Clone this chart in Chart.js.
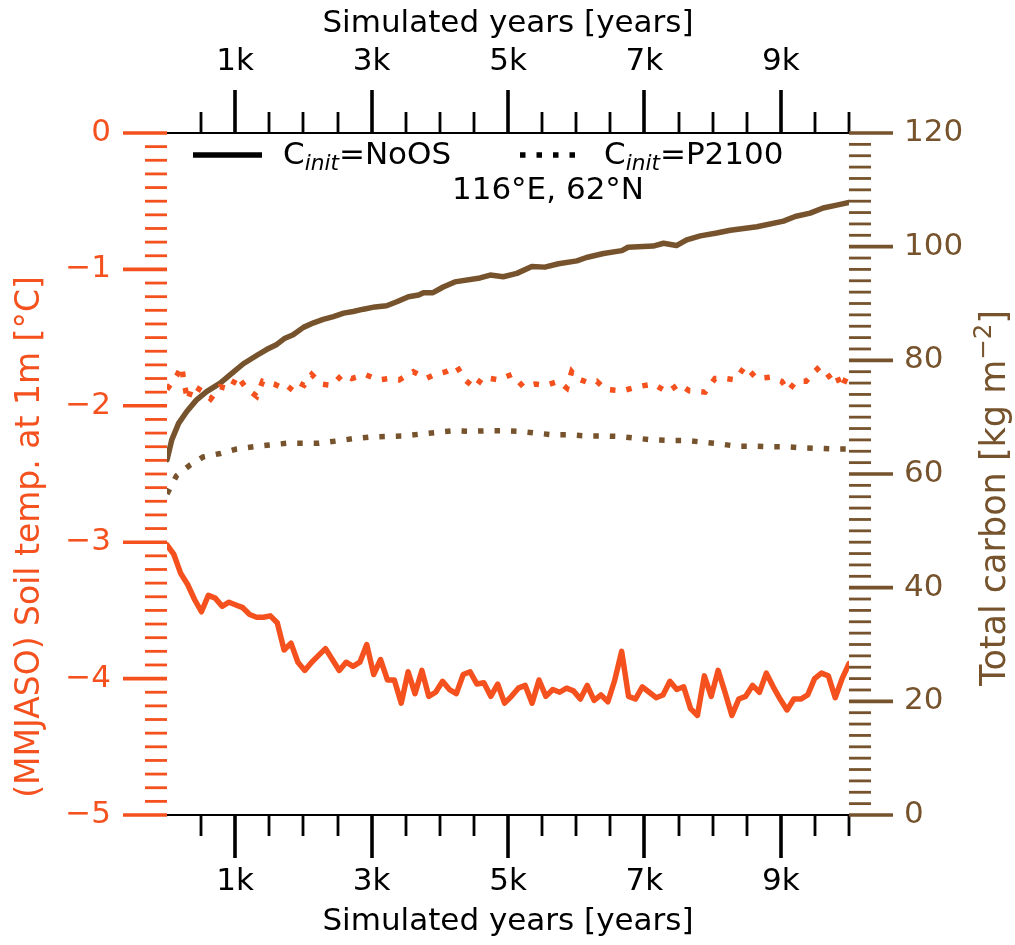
<!DOCTYPE html>
<html>
<head>
<meta charset="utf-8">
<script src="https://cdn.jsdelivr.net/npm/chart.js@4"></script>
<style>
  body { margin: 0; background: #fff; }
  canvas { display: block; }
</style>
</head>
<body>
<canvas id="chart" width="1015" height="945"></canvas>
<script>
// soil temperature, C_init = NoOS (one value per ~100 simulated years)
const tempNoOS = [
    -3.02, -3.09, -3.23, -3.31, -3.42, -3.51, -3.39, -3.41, -3.47, -3.44,
    -3.46, -3.48, -3.53, -3.55, -3.55, -3.54, -3.59, -3.79, -3.74, -3.88,
    -3.94, -3.88, -3.83, -3.78, -3.86, -3.94, -3.88, -3.91, -3.88, -3.75,
    -3.97, -3.86, -4.01, -4.01, -4.18, -3.95, -4.11, -3.94, -4.13, -4.10,
    -4.02, -4.08, -4.11, -3.97, -3.95, -4.04, -4.03, -4.13, -4.04, -4.18,
    -4.13, -4.07, -4.05, -4.18, -4.01, -4.13, -4.08, -4.10, -4.07, -4.09,
    -4.15, -4.05, -4.16, -4.12, -4.17, -4.01, -3.80, -4.13, -4.15, -4.06,
    -4.10, -4.14, -4.12, -4.02, -4.08, -4.06, -4.22, -4.27, -3.98, -4.13,
    -3.94, -4.10, -4.27, -4.15, -4.13, -4.05, -4.10, -3.96, -4.06, -4.15,
    -4.23, -4.15, -4.15, -4.12, -4.00, -3.96, -3.98, -4.14, -4.00, -3.89
];

// soil temperature, C_init = P2100
const tempP2100Years = [
    0, 142, 216, 249, 304, 377, 509, 641, 777, 924,
    1031, 1158, 1315, 1403, 1569, 1779, 1891, 2009, 2122, 2258,
    2415, 2576, 2708, 2903, 3098, 3260, 3406, 3611, 3798, 3930,
    4091, 4248, 4370, 4516, 4629, 4858, 5054, 5225, 5396, 5557,
    5738, 5861, 5934, 6016, 6177, 6301, 6432, 6676, 6902, 7130,
    7336, 7507, 7658, 7889, 8035, 8196, 8333, 8475, 8647, 8842,
    9013, 9110, 9223, 9370, 9535, 9663, 9795, 9893, 10000
];
const tempP2100 = [
    -1.88, -1.78, -1.71, -1.83, -1.96, -1.85, -1.89, -1.95, -1.86, -1.88,
    -1.78, -1.87, -1.93, -1.82, -1.84, -1.89, -1.82, -1.85, -1.77, -1.84,
    -1.85, -1.77, -1.80, -1.77, -1.81, -1.80, -1.81, -1.75, -1.80, -1.77,
    -1.75, -1.71, -1.81, -1.87, -1.79, -1.81, -1.77, -1.86, -1.84, -1.85,
    -1.82, -1.87, -1.75, -1.80, -1.83, -1.82, -1.88, -1.89, -1.86, -1.84,
    -1.90, -1.84, -1.89, -1.90, -1.80, -1.80, -1.81, -1.71, -1.80, -1.79,
    -1.82, -1.89, -1.82, -1.82, -1.73, -1.80, -1.75, -1.87, -1.75
];

// total carbon, C_init = NoOS
const carbonNoOSYears = [
    0, 70, 170, 290, 430, 580, 780, 950, 1120, 1320,
    1460, 1610, 1730, 1850, 2000, 2150, 2290, 2440, 2590, 2730,
    2880, 3050, 3220, 3370, 3540, 3690, 3760, 3900, 4050, 4220,
    4590, 4740, 4930, 5130, 5350, 5540, 5740, 6010, 6150, 6400,
    6670, 6760, 7130, 7280, 7470, 7620, 7820, 8060, 8260, 8650,
    9040, 9210, 9430, 9620, 9820, 10000
];
const carbonNoOS = [
    62.5, 66.0, 68.9, 71.0, 73.0, 74.5, 76.0, 77.7, 79.4, 80.9,
    81.9, 82.8, 83.9, 84.5, 85.8, 86.6, 87.2, 87.7, 88.3, 88.6,
    89.0, 89.4, 89.6, 90.3, 91.2, 91.5, 91.9, 91.9, 92.9, 93.8,
    94.5, 95.0, 94.7, 95.3, 96.5, 96.4, 97.0, 97.5, 98.1, 98.8,
    99.3, 99.9, 100.1, 100.6, 100.2, 101.2, 101.9, 102.4, 102.9, 103.5,
    104.5, 105.3, 105.9, 106.8, 107.3, 107.8
];

// total carbon, C_init = P2100
const carbonP2100Years = [
    0, 140, 330, 530, 780, 1020, 1270, 1500, 1750, 1990,
    2230, 2480, 2720, 2970, 3210, 3460, 3700, 3940, 4190, 4430,
    4680, 4920, 5170, 5410, 5660, 5900, 6140, 6390, 6630, 6880,
    7120, 7370, 7610, 7860, 8100, 8340, 8590, 8830, 9080, 9320,
    9570, 9810, 10000
];
const carbonP2100 = [
    56.5, 59.7, 61.5, 63.0, 63.6, 64.4, 64.8, 65.1, 65.4, 65.4,
    65.4, 65.8, 66.2, 66.5, 66.6, 66.7, 67.0, 67.3, 67.6, 67.5,
    67.6, 67.6, 67.5, 67.2, 66.9, 66.9, 66.7, 66.7, 66.6, 66.3,
    66.0, 65.9, 65.9, 65.6, 65.3, 64.9, 64.9, 64.8, 64.8, 64.6,
    64.5, 64.4, 64.4
];

// axis ticks
const yearTicks = [1000, 3000, 5000, 7000, 9000];
const tempTicks = [-5, -4, -3, -2, -1, 0];
const carbonTicks = [0, 20, 40, 60, 80, 100, 120];

const ORANGE = '#f4511e';
const BROWN = '#76532c';
const FONT = 'DejaVu Sans';
const FS = 31;
const LABEL_FS = 33;

const tempNoOSYears = tempNoOS.map((_, i) => i * 10000 / (tempNoOS.length - 1));
const pts = (xs, ys) => ys.map((y, i) => ({ x: xs[i], y }));
const minus = v => String(v).replace('-', '\u2212');

// text pieces with sub/superscripts
function richText(ctx, parts, x, y, align, size) {
    const fs = size || FS;
    const fontOf = p => (p.italic ? 'italic ' : '') + (p.small ? fs * 0.7 : fs) + 'px "' + FONT + '"';
    let w = 0;
    parts.forEach(p => { ctx.font = fontOf(p); w += ctx.measureText(p.t).width; });
    let cx = align === 'center' ? x - w / 2 : x;
    ctx.textAlign = 'left';
    ctx.textBaseline = 'alphabetic';
    parts.forEach(p => {
        ctx.font = fontOf(p);
        ctx.fillText(p.t, cx, y + (p.dy || 0));
        cx += ctx.measureText(p.t).width;
    });
}

const decorations = {
    id: 'decorations',
    afterDraw(chart) {
        const { ctx, chartArea: a, scales } = chart;
        ctx.save();
        ctx.lineCap = 'butt';
        const seg = (x1, y1, x2, y2, w, c) => {
            ctx.beginPath();
            ctx.strokeStyle = c;
            ctx.lineWidth = w;
            ctx.moveTo(x1, y1);
            ctx.lineTo(x2, y2);
            ctx.stroke();
        };
        // year ticks every 500, long ones at the labelled values
        for (let i = 1; i <= 20; i++) {
            const v = i * 500;
            const major = yearTicks.includes(v);
            const len = major ? 43 : 21;
            const w = major ? 3.6 : 2.8;
            const px = Math.round(scales.x.getPixelForValue(v));
            seg(px, a.bottom, px, a.bottom + len, w, '#000');
            seg(px, a.top, px, a.top - len, w, '#000');
        }
        // temperature ticks every 0.1
        for (let i = 0; i <= 50; i++) {
            const major = i % 10 === 0;
            const py = scales.yT.getPixelForValue(-5 + i / 10);
            seg(a.left - (major ? 44 : 22), py, a.left, py, major ? 3.6 : 2.8, ORANGE);
        }
        // carbon ticks every 2
        for (let i = 0; i <= 60; i++) {
            const major = i % 10 === 0;
            const py = scales.yC.getPixelForValue(i * 2);
            seg(a.right, py, a.right + (major ? 44 : 22), py, major ? 3.6 : 2.8, BROWN);
        }

        // legend
        ctx.fillStyle = '#000';
        seg(193, 155, 262, 155, 5.5, '#000');
        ctx.setLineDash([5.5, 11]);
        seg(520, 155, 580, 155, 5.5, '#000');
        ctx.setLineDash([]);
        richText(ctx, [{ t: 'C' }, { t: 'init', italic: true, small: true, dy: 6 }, { t: '=NoOS' }], 283, 164);
        richText(ctx, [{ t: 'C' }, { t: 'init', italic: true, small: true, dy: 6 }, { t: '=P2100' }], 604, 164);
        richText(ctx, [{ t: '116\u00b0E, 62\u00b0N' }], 548, 199, 'center');

        // left axis title, reading upwards
        ctx.save();
        ctx.translate(28, 537);
        ctx.rotate(-Math.PI / 2);
        ctx.fillStyle = ORANGE;
        ctx.translate(0, 11);
        richText(ctx, [{ t: '(MMJASO) Soil temp. at 1m [\u00b0C]' }], 0, 0, 'center', LABEL_FS);
        ctx.restore();

        // right axis title, reading upwards
        ctx.translate(993, 498);
        ctx.rotate(-Math.PI / 2);
        ctx.fillStyle = BROWN;
        ctx.translate(0, 12);
        richText(ctx, [{ t: 'Total carbon [kg m' }, { t: '\u22122', small: true, dy: -14 }, { t: ']' }], 0, 0, 'center', 35);
        ctx.restore();
    }
};

const tickFont = { family: FONT, size: FS };

const xAxis = (position, height, labelPad, titlePad) => ({
    type: 'linear',
    position,
    min: 0,
    max: 10000,
    afterBuildTicks: s => { s.ticks = yearTicks.map(v => ({ value: v })); },
    afterFit: s => { s.height = height; },
    grid: { display: false, drawTicks: false },
    border: { display: true, color: '#000', width: 2 },
    ticks: {
        color: '#000',
        font: tickFont,
        padding: labelPad,
        maxRotation: 0,
        autoSkip: false,
        callback: v => (v / 1000) + 'k'
    },
    title: {
        display: true,
        text: 'Simulated years [years]',
        color: '#000',
        font: tickFont,
        padding: titlePad
    }
});

new Chart(document.getElementById('chart'), {
    type: 'line',
    data: {
        datasets: [
            {
                label: 'temp P2100',
                data: pts(tempP2100Years, tempP2100),
                xAxisID: 'x', yAxisID: 'yT',
                borderColor: ORANGE, borderWidth: 5.5,
                borderDash: [5.5, 11], borderCapStyle: 'butt'
            },
            {
                label: 'temp NoOS',
                data: pts(tempNoOSYears, tempNoOS),
                xAxisID: 'x', yAxisID: 'yT',
                borderColor: ORANGE, borderWidth: 5.5,
                borderJoinStyle: 'round', borderCapStyle: 'round'
            },
            {
                label: 'carbon P2100',
                data: pts(carbonP2100Years, carbonP2100),
                xAxisID: 'x', yAxisID: 'yC',
                borderColor: BROWN, borderWidth: 5.5,
                borderDash: [5.5, 11], borderCapStyle: 'butt'
            },
            {
                label: 'carbon NoOS',
                data: pts(carbonNoOSYears, carbonNoOS),
                xAxisID: 'x', yAxisID: 'yC',
                borderColor: BROWN, borderWidth: 5.5,
                borderJoinStyle: 'round', borderCapStyle: 'round'
            }
        ]
    },
    options: {
        responsive: false,
        animation: false,
        devicePixelRatio: 1,
        layout: { padding: 0 },
        elements: { point: { radius: 0 }, line: { tension: 0 } },
        plugins: {
            legend: { display: false },
            tooltip: { enabled: false }
        },
        scales: {
            x: xAxis('bottom', 130, 48, { top: 0, bottom: 4 }),
            xTop: xAxis('top', 133, 52, { top: 5, bottom: 0 }),
            yT: {
                type: 'linear',
                position: 'left',
                min: -5,
                max: 0,
                afterBuildTicks: s => { s.ticks = tempTicks.map(v => ({ value: v })); },
                afterFit: s => { s.width = 167; },
                grid: { display: false, drawTicks: false },
                border: { display: false },
                ticks: { color: ORANGE, font: tickFont, padding: 56, callback: v => minus(v) }
            },
            yC: {
                type: 'linear',
                position: 'right',
                min: 0,
                max: 120,
                afterBuildTicks: s => { s.ticks = carbonTicks.map(v => ({ value: v })); },
                afterFit: s => { s.width = 166; },
                grid: { display: false, drawTicks: false },
                border: { display: false },
                ticks: { color: BROWN, font: tickFont, padding: 55 }
            }
        }
    },
    plugins: [decorations]
});
</script>
</body>
</html>
